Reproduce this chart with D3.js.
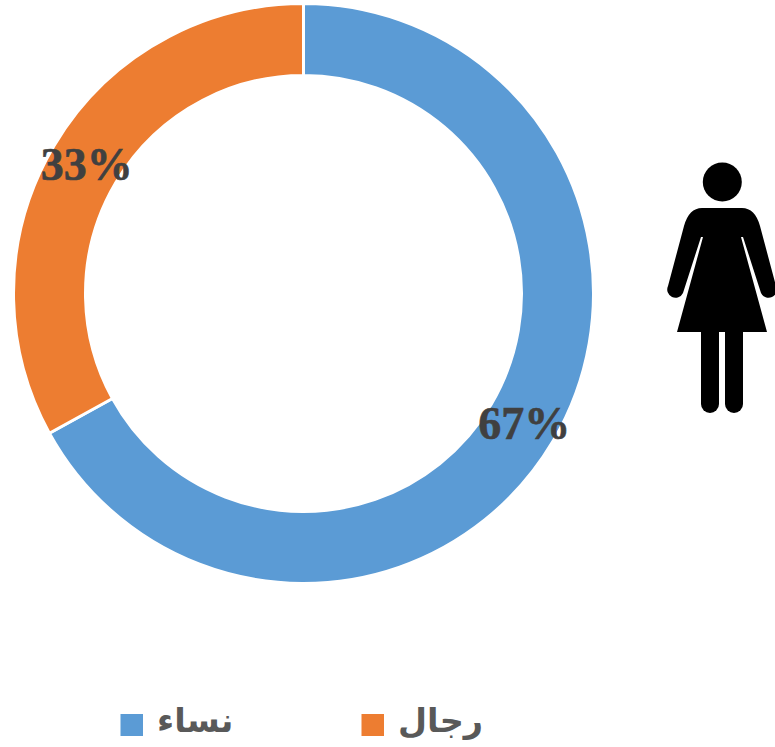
<!DOCTYPE html>
<html>
<head>
<meta charset="utf-8">
<script src="https://cdn.jsdelivr.net/npm/d3@7"></script>
<style>
html, body { margin: 0; padding: 0; background: #fff; overflow: hidden; }
</style>
</head>
<body>
<svg id="chart" width="775" height="747"></svg>
<script>
const categories = ['نساء', 'رجال'];
const values = [67, 33];
const colors = ['#5b9bd5', '#ed7d31'];
const labels = ['67%', '33%'];

const svg = d3.select('#chart');
const cx = 303.5, cy = 293.5;
const outer = 290, inner = 218;

const pie = d3.pie().sort(null).value(d => d);
const arc = d3.arc().innerRadius(inner).outerRadius(outer);
const arcs = pie(values);

const ring = svg.append('g').attr('transform', `translate(${cx},${cy})`);
ring.selectAll('path')
    .data(arcs)
    .enter()
    .append('path')
    .attr('d', arc)
    .attr('fill', (d, i) => colors[i])
    .attr('stroke', '#fff')
    .attr('stroke-width', 3);

ring.selectAll('text')
    .data(arcs)
    .enter()
    .append('text')
    .attr('transform', d => `translate(${arc.centroid(d)})`)
    .attr('text-anchor', 'middle')
    .attr('dx', 2)
    .attr('dy', '0.35em')
    .attr('font-family', '"Liberation Serif", serif')
    .attr('font-weight', 'bold')
    .attr('font-size', 46)
    .attr('fill', '#404040')
    .attr('stroke', '#404040')
    .attr('stroke-width', 0.6)
    .text((d, i) => labels[i]);

// legend
const legendX = [120.5, 361.5];
const legend = svg.append('g');
legend.selectAll('rect')
    .data(categories)
    .enter()
    .append('rect')
    .attr('x', (d, i) => legendX[i])
    .attr('y', 714)
    .attr('width', 22.5)
    .attr('height', 22)
    .attr('fill', (d, i) => colors[i]);
legend.selectAll('text')
    .data(categories)
    .enter()
    .append('text')
    .attr('x', (d, i) => legendX[i] + 36.5)
    .attr('y', 732)
    .attr('font-family', '"DejaVu Sans", sans-serif')
    .attr('font-weight', 'bold')
    .attr('font-size', 33.5)
    .attr('fill', '#595959')
    .text(d => d);

// woman icon
const icon = svg.append('g').attr('fill', '#000');
icon.append('circle').attr('cx', 722.3).attr('cy', 182).attr('r', 19.5);
icon.append('path').attr('d', 'M702,208 H742 Q755,208 760,226 L776,286 A8,8 0 0 1 761,293 L743,237 H741 L767,332 H677 L703,237 H701 L683,293 A8,8 0 0 1 668,286 L684,226 Q689,208 702,208 Z');
icon.append('path').attr('d', 'M701,331 H719 V404 A9,9 0 0 1 701,404 Z');
icon.append('path').attr('d', 'M725,331 H743 V404 A9,9 0 0 1 725,404 Z');
</script>
</body>
</html>
